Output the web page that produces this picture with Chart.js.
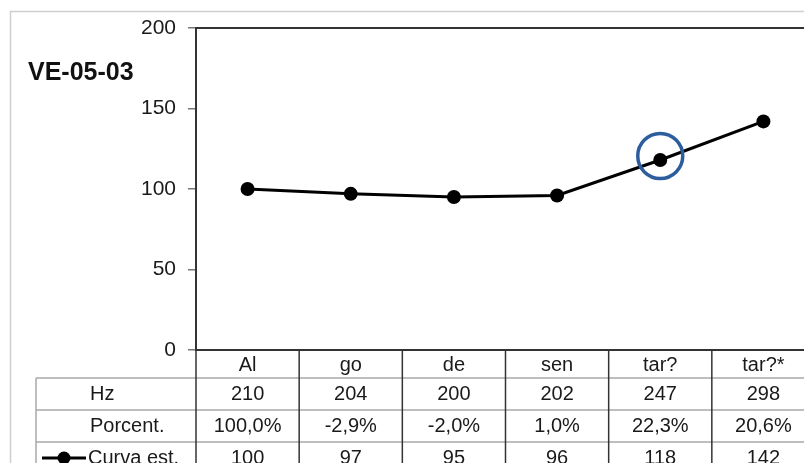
<!DOCTYPE html>
<html>
<head>
<meta charset="utf-8">
<script src="https://cdn.jsdelivr.net/npm/chart.js@4.4.1/dist/chart.umd.min.js"></script>
<style>
  html, body { margin: 0; padding: 0; background: #fff; overflow: hidden; }
  #wrap { position: relative; width: 830px; height: 463px; }
</style>
</head>
<body>
<div id="wrap"><canvas id="chart"></canvas></div>
<script>
// data
const categories = ["Al", "go", "de", "sen", "tar?", "tar?*"];
const hzValues = [210, 204, 200, 202, 247, 298];
const percentLabels = ["100,0%", "-2,9%", "-2,0%", "1,0%", "22,3%", "20,6%"];
const curveValues = [100, 97, 95, 96, 118, 142];
const rowNames = ["Hz", "Porcent.", "Curva est."];
const chartTitle = "VE-05-03";
const highlightIndex = 4;

const FONT = '"Liberation Sans", Arial, sans-serif';

// frame, title, data table and the highlight ring
const tablePlugin = {
    id: "tablePlugin",
    beforeDraw(chart) {
        const ctx = chart.ctx;
        ctx.save();
        ctx.strokeStyle = "#cfcfcf";
        ctx.lineWidth = 1.5;
        ctx.beginPath();
        ctx.moveTo(10.5, 470);
        ctx.lineTo(10.5, 11.5);
        ctx.lineTo(830, 11.5);
        ctx.stroke();
        ctx.restore();
    },
    afterDraw(chart) {
        const ctx = chart.ctx;
        const area = chart.chartArea;
        const x = chart.scales.x;
        const y = chart.scales.y;
        const colW = (area.right - area.left) / categories.length;
        const headH = 28, rowH = 32;
        const rowTops = [area.bottom + headH, area.bottom + headH + rowH, area.bottom + headH + 2 * rowH];
        const tableLeft = 36;

        ctx.save();
        // title
        ctx.fillStyle = "#111";
        ctx.font = "bold 25px " + FONT;
        ctx.textAlign = "left";
        ctx.textBaseline = "middle";
        ctx.fillText(chartTitle, 28, 73);

        // plot frame
        ctx.strokeStyle = "#333";
        ctx.lineWidth = 2;
        ctx.strokeRect(area.left, area.top, area.right - area.left, area.bottom - area.top);

        // horizontal table lines
        ctx.strokeStyle = "#a8a8a8";
        ctx.lineWidth = 1.5;
        rowTops.forEach(t => {
            ctx.beginPath();
            ctx.moveTo(tableLeft, t);
            ctx.lineTo(area.right + 20, t);
            ctx.stroke();
        });
        ctx.beginPath();
        ctx.moveTo(tableLeft, rowTops[0]);
        ctx.lineTo(tableLeft, 470);
        ctx.stroke();

        // vertical table lines
        ctx.strokeStyle = "#333";
        ctx.lineWidth = 1.5;
        for (let i = 0; i <= categories.length; i++) {
            const bx = x.getPixelForValue(i) - colW / 2;
            ctx.beginPath();
            ctx.moveTo(bx, area.bottom);
            ctx.lineTo(bx, 470);
            ctx.stroke();
        }

        // cell texts
        ctx.fillStyle = "#1a1a1a";
        ctx.font = "20px " + FONT;
        ctx.textAlign = "center";
        categories.forEach((c, i) => {
            const cx = x.getPixelForValue(i);
            ctx.fillText(c, cx, area.bottom + headH / 2 + 1);
            ctx.fillText(String(hzValues[i]), cx, rowTops[0] + rowH / 2);
            ctx.fillText(percentLabels[i], cx, rowTops[1] + rowH / 2);
            ctx.fillText(String(curveValues[i]), cx, rowTops[2] + rowH / 2);
        });

        // row names
        ctx.textAlign = "left";
        ctx.fillText(rowNames[0], 90, rowTops[0] + rowH / 2);
        ctx.fillText(rowNames[1], 90, rowTops[1] + rowH / 2);
        ctx.fillText(rowNames[2], 88, rowTops[2] + rowH / 2);

        // legend key
        const ky = rowTops[2] + rowH / 2;
        ctx.strokeStyle = "#000";
        ctx.lineWidth = 3;
        ctx.beginPath();
        ctx.moveTo(42, ky);
        ctx.lineTo(86, ky);
        ctx.stroke();
        ctx.fillStyle = "#000";
        ctx.beginPath();
        ctx.arc(64, ky, 6.5, 0, Math.PI * 2);
        ctx.fill();

        // highlight ring
        const hx = x.getPixelForValue(highlightIndex);
        const hy = y.getPixelForValue(curveValues[highlightIndex]) - 4;
        ctx.strokeStyle = "#2c5e9e";
        ctx.lineWidth = 3.5;
        ctx.beginPath();
        ctx.arc(hx, hy, 22.5, 0, Math.PI * 2);
        ctx.stroke();
        ctx.restore();
    }
};

new Chart(document.getElementById("chart"), {
    type: "line",
    data: {
        labels: categories,
        datasets: [{
            label: rowNames[2],
            data: curveValues,
            borderColor: "#000",
            backgroundColor: "#000",
            borderWidth: 3,
            pointRadius: 7,
            pointBackgroundColor: "#000",
            pointBorderWidth: 0,
            tension: 0,
            fill: false
        }]
    },
    options: {
        responsive: true,
        maintainAspectRatio: false,
        animation: false,
        layout: { padding: { top: 28, right: 15, bottom: 113, left: 0 } },
        plugins: {
            legend: { display: false },
            tooltip: { enabled: false }
        },
        scales: {
            x: {
                display: false,
                offset: true
            },
            y: {
                min: 0,
                max: 200,
                afterFit(scale) { scale.width = 196; },
                ticks: {
                    stepSize: 50,
                    padding: 12,
                    color: "#1a1a1a",
                    font: { family: FONT, size: 21 }
                },
                grid: {
                    drawOnChartArea: false,
                    drawTicks: true,
                    tickLength: 8,
                    color: "#777",
                    lineWidth: 1.5
                },
                border: { display: false }
            }
        }
    },
    plugins: [tablePlugin]
});
</script>
</body>
</html>
